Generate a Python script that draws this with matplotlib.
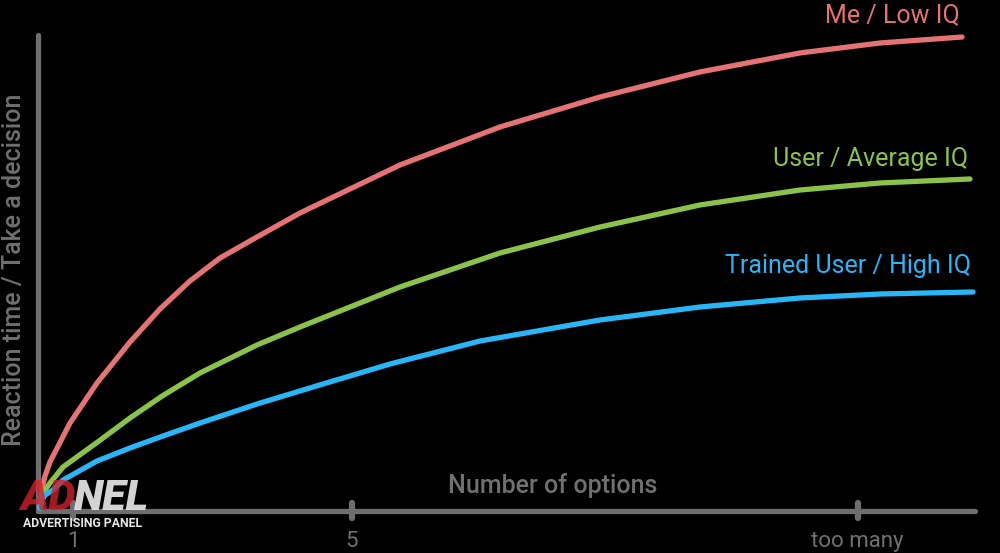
import matplotlib
matplotlib.use("Agg")
import matplotlib.pyplot as plt

plt.rcParams['font.family'] = ['Roboto', 'DejaVu Sans']

# ---- data ----
# x: number of options (1 .. "too many"), y: reaction time (arbitrary units 0..100)
x_ticks = [1, 5, 12.25]
x_tick_labels = ["1", "5", "too many"]

low_x = [0.527, 0.556, 0.599, 0.670, 0.957, 1.344, 1.817, 2.247, 2.677, 3.108,
         3.638, 4.254, 5.688, 7.122, 8.556, 9.989, 11.423, 12.570, 13.746]
low_y = [0.5, 4.74, 7.26, 10.21, 18.42, 26.84, 35.47, 42.42, 48.32, 53.16,
         57.58, 62.63, 72.74, 80.74, 87.05, 92.32, 96.32, 98.42, 99.68]

avg_x = [0.527, 0.556, 0.599, 0.670, 0.857, 1.344, 1.817, 2.290, 2.821, 3.638,
         4.254, 5.688, 7.122, 8.556, 9.989, 11.423, 12.570, 13.860]
avg_y = [0.5, 2.84, 4.32, 5.79, 9.16, 14.32, 19.47, 24.21, 28.95, 34.84,
         38.63, 47.05, 54.21, 59.68, 64.32, 67.47, 68.95, 69.79]

high_x = [0.527, 0.556, 0.599, 0.713, 0.857, 1.344, 1.817, 2.290, 2.821, 3.638,
          4.584, 5.545, 6.835, 8.556, 9.989, 11.423, 12.570, 13.903]
high_y = [0.5, 2.21, 3.26, 4.32, 6.42, 10.42, 13.16, 15.68, 18.42, 22.42,
          26.63, 30.84, 35.68, 40.11, 42.84, 44.74, 45.58, 46.0]

series = [
    ("Me / Low IQ", low_x, low_y, "#e57373"),
    ("User / Average IQ", avg_x, avg_y, "#8bc34a"),
    ("Trained User / High IQ", high_x, high_y, "#29b6f6"),
]

axis_color = "#6e6e6e"
text_color = "#707070"

fig = plt.figure(figsize=(10, 5.53), dpi=100, facecolor="black")
ax = fig.add_axes([0, 0, 1, 1], facecolor="black")
ax.set_xlim(-0.0466, 14.290)
ax.set_ylim(-8.947, 107.47)
ax.axis("off")

x_origin = 0.498
x_end = 13.93
y_top = 100.1

# axes lines
ax.plot([x_origin, x_origin], [0, y_top], color=axis_color, lw=3.8,
        solid_capstyle="round", zorder=1)
ax.plot([x_origin, x_end], [0, 0], color=axis_color, lw=3.8,
        solid_capstyle="round", zorder=1)
for xt in x_ticks:
    ax.plot([xt, xt], [-1.5, 1.5], color=axis_color, lw=4.5,
            solid_capstyle="round", zorder=1)
for xt, lab in zip(x_ticks, x_tick_labels):
    ax.text(xt, -6.6, lab, color=text_color, fontsize=16,
            ha="center", va="center")

# curves
label_pos = [(13.72, 104.2), (13.83, 74.0), (13.88, 51.5)]
for (name, xs, ys, col), (lx, ly) in zip(series, label_pos):
    ax.plot(xs, ys, color=col, lw=3.8, solid_capstyle="round",
            solid_joinstyle="round", zorder=3)
    ax.text(lx, ly, name, color=col, fontsize=18, ha="right", va="center")

# axis titles
ax.text(7.87, 5.3, "Number of options", color=text_color, fontsize=18,
        ha="center", va="center", fontweight="medium")
ax.text(0.154, 50.6, "Reaction time / Take a decision", color=text_color,
        fontsize=18, ha="center", va="center", rotation=90,
        fontweight="medium")

# watermark logo
fig.text(0.020, 0.098, "AD", color="#d0202a", alpha=0.8, fontsize=31,
         fontweight="black", fontstyle="italic", ha="left", va="center",
         family=["Liberation Sans Narrow", "Roboto", "DejaVu Sans"])
fig.text(0.074, 0.098, "NEL", color="#e6e6e6", alpha=0.92, fontsize=31,
         fontweight="black", fontstyle="italic", ha="left", va="center",
         family=["Liberation Sans Narrow", "Roboto", "DejaVu Sans"])
fig.text(0.083, 0.053, "ADVERTISING PANEL", color="#e6e6e6", fontsize=8.8,
         fontweight="bold", ha="center", va="center")

fig.savefig("out.png", dpi=100, facecolor="black")
